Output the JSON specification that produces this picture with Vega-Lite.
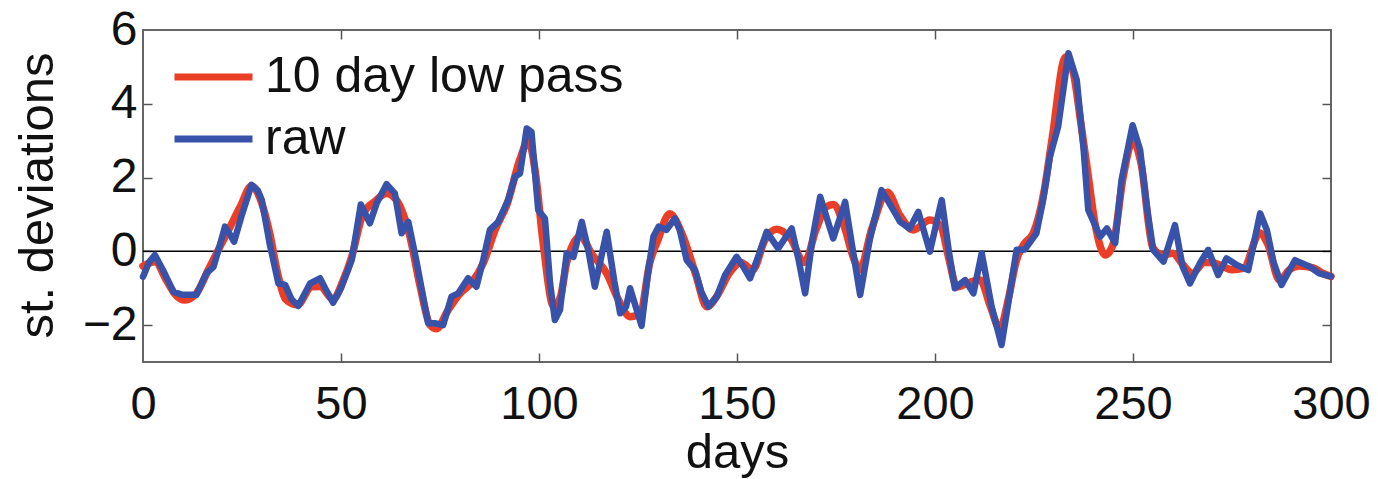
{
  "$schema": "https://vega.github.io/schema/vega-lite/v6.json",
  "width": 1188,
  "height": 332,
  "autosize": {"type": "none"},
  "padding": {"left": 143, "top": 30, "right": 47, "bottom": 117},
  "background": "white",
  "config": {
    "font": "Liberation Sans",
    "view": {"stroke": "#666666", "strokeWidth": 2},
    "axis": {"grid": false, "domain": false, "labelColor": "#111111", "titleColor": "#111111", "titleFontWeight": "normal"}
  },
  "datasets": {
    "raw": [
      {"day": 0, "value": -0.69}, {"day": 1.5, "value": -0.3}, {"day": 3, "value": -0.1}, {"day": 5, "value": -0.5},
      {"day": 7.7, "value": -1.1}, {"day": 10, "value": -1.18}, {"day": 13.5, "value": -1.18}, {"day": 16, "value": -0.6},
      {"day": 17.8, "value": -0.42}, {"day": 19.5, "value": 0.2}, {"day": 20.7, "value": 0.67}, {"day": 22, "value": 0.45},
      {"day": 23, "value": 0.26}, {"day": 25, "value": 1.0}, {"day": 27.4, "value": 1.8}, {"day": 29, "value": 1.65},
      {"day": 30, "value": 1.39}, {"day": 32, "value": 0.2}, {"day": 34.2, "value": -0.87}, {"day": 35.9, "value": -0.91},
      {"day": 37.5, "value": -1.3}, {"day": 39.2, "value": -1.48}, {"day": 42.2, "value": -0.87}, {"day": 44.7, "value": -0.73},
      {"day": 46, "value": -1.0}, {"day": 48, "value": -1.39}, {"day": 50, "value": -1.0}, {"day": 52.7, "value": -0.24},
      {"day": 55, "value": 1.27}, {"day": 57.3, "value": 0.76}, {"day": 59, "value": 1.3}, {"day": 61.5, "value": 1.82},
      {"day": 63.6, "value": 1.57}, {"day": 65.3, "value": 0.49}, {"day": 67, "value": 0.8}, {"day": 69, "value": -0.24},
      {"day": 72, "value": -1.95}, {"day": 73.7, "value": -1.95}, {"day": 75.8, "value": -2.0}, {"day": 77.9, "value": -1.23},
      {"day": 79.6, "value": -1.14}, {"day": 82.1, "value": -0.73}, {"day": 84.2, "value": -0.96}, {"day": 85.9, "value": -0.24},
      {"day": 87.6, "value": 0.58}, {"day": 89.7, "value": 0.8}, {"day": 92.2, "value": 1.39}, {"day": 93.9, "value": 2.02},
      {"day": 95.2, "value": 2.11}, {"day": 96.9, "value": 3.33}, {"day": 98.1, "value": 3.24}, {"day": 99.8, "value": 1.12},
      {"day": 101.5, "value": 0.89}, {"day": 102.8, "value": -0.87}, {"day": 104, "value": -1.86}, {"day": 105.3, "value": -1.59},
      {"day": 107, "value": -0.05}, {"day": 108.7, "value": -0.15}, {"day": 110.8, "value": 0.8}, {"day": 112.5, "value": 0.0},
      {"day": 114.1, "value": -0.96}, {"day": 117.1, "value": 0.53}, {"day": 119, "value": -0.8}, {"day": 120.5, "value": -1.68},
      {"day": 122, "value": -1.5}, {"day": 123, "value": -1.0}, {"day": 125.9, "value": -2.02}, {"day": 127.5, "value": -0.6},
      {"day": 128.9, "value": 0.4}, {"day": 130.2, "value": 0.67}, {"day": 132.2, "value": 0.58}, {"day": 134.3, "value": 0.89},
      {"day": 135.5, "value": 0.6}, {"day": 137.3, "value": -0.24}, {"day": 139.4, "value": -0.51}, {"day": 141, "value": -1.1},
      {"day": 142.8, "value": -1.5}, {"day": 144.9, "value": -1.23}, {"day": 147, "value": -0.64}, {"day": 149.9, "value": -0.15},
      {"day": 151.5, "value": -0.4}, {"day": 153.3, "value": -0.73}, {"day": 155.5, "value": -0.1}, {"day": 157.5, "value": 0.53},
      {"day": 160.4, "value": 0.08}, {"day": 163.8, "value": 0.62}, {"day": 165.5, "value": -0.2}, {"day": 167.2, "value": -1.14},
      {"day": 169, "value": 0.3}, {"day": 171, "value": 1.48}, {"day": 174.3, "value": 0.35}, {"day": 177.3, "value": 1.34},
      {"day": 179, "value": 0.2}, {"day": 181.1, "value": -1.18}, {"day": 183.5, "value": 0.3}, {"day": 186.5, "value": 1.66},
      {"day": 188.5, "value": 1.3}, {"day": 191.2, "value": 0.8}, {"day": 193.6, "value": 0.62}, {"day": 195.8, "value": 1.07},
      {"day": 198.7, "value": -0.01}, {"day": 201.7, "value": 1.39}, {"day": 203.5, "value": 0.0}, {"day": 205, "value": -1.0},
      {"day": 207.6, "value": -0.78}, {"day": 209.7, "value": -1.14}, {"day": 211.8, "value": -0.05}, {"day": 214.3, "value": -1.5},
      {"day": 216.8, "value": -2.54}, {"day": 218.1, "value": -1.68}, {"day": 220.6, "value": 0.04}, {"day": 222.7, "value": 0.05},
      {"day": 225.6, "value": 0.49}, {"day": 227.3, "value": 1.39}, {"day": 229, "value": 2.56}, {"day": 231.1, "value": 3.38},
      {"day": 233.7, "value": 5.37}, {"day": 235.8, "value": 4.64}, {"day": 237.5, "value": 2.8}, {"day": 238.7, "value": 1.12},
      {"day": 241.7, "value": 0.4}, {"day": 243.4, "value": 0.62}, {"day": 245.5, "value": 0.22}, {"day": 247.1, "value": 1.93},
      {"day": 249.9, "value": 3.42}, {"day": 251.8, "value": 2.75}, {"day": 253.5, "value": 1.2}, {"day": 255.1, "value": 0.04},
      {"day": 257.7, "value": -0.28}, {"day": 260.6, "value": 0.71}, {"day": 262.5, "value": -0.4}, {"day": 264.4, "value": -0.87},
      {"day": 267, "value": -0.3}, {"day": 269, "value": 0.04}, {"day": 271.5, "value": -0.64}, {"day": 273.6, "value": -0.19},
      {"day": 276.2, "value": -0.37}, {"day": 279.1, "value": -0.51}, {"day": 282.1, "value": 1.03}, {"day": 283.8, "value": 0.58},
      {"day": 285.5, "value": -0.3}, {"day": 287.5, "value": -0.91}, {"day": 290.9, "value": -0.24}, {"day": 294.7, "value": -0.42},
      {"day": 297, "value": -0.6}, {"day": 300, "value": -0.68}
    ],
    "lp": [
      {"day": 0, "value": -0.4}, {"day": 3, "value": -0.28}, {"day": 6, "value": -0.8}, {"day": 8, "value": -1.15},
      {"day": 10.6, "value": -1.32}, {"day": 13.5, "value": -1.14}, {"day": 16.5, "value": -0.5}, {"day": 19.4, "value": 0.12},
      {"day": 21.7, "value": 0.6}, {"day": 24.5, "value": 1.2}, {"day": 27.4, "value": 1.77}, {"day": 30, "value": 1.3},
      {"day": 32, "value": 0.49}, {"day": 34, "value": -0.6}, {"day": 36, "value": -1.3}, {"day": 39, "value": -1.45},
      {"day": 42.6, "value": -0.96}, {"day": 44.7, "value": -0.95}, {"day": 48, "value": -1.3}, {"day": 50.5, "value": -0.8},
      {"day": 52.7, "value": -0.15}, {"day": 55.5, "value": 1.0}, {"day": 58.5, "value": 1.35}, {"day": 61.5, "value": 1.57},
      {"day": 64, "value": 1.39}, {"day": 67.4, "value": 0.4}, {"day": 70, "value": -0.96}, {"day": 72.5, "value": -2.0},
      {"day": 74.1, "value": -2.1}, {"day": 77, "value": -1.6}, {"day": 80, "value": -1.15}, {"day": 83, "value": -0.85},
      {"day": 86, "value": -0.3}, {"day": 89, "value": 0.6}, {"day": 92, "value": 1.3}, {"day": 95.2, "value": 2.5},
      {"day": 97.3, "value": 3.0}, {"day": 99, "value": 2.2}, {"day": 101, "value": 0.27}, {"day": 103.7, "value": -1.5},
      {"day": 105.5, "value": -1.2}, {"day": 107, "value": -0.3}, {"day": 110.4, "value": 0.4}, {"day": 113.5, "value": -0.1},
      {"day": 117.1, "value": -0.6}, {"day": 120, "value": -1.3}, {"day": 123, "value": -1.77}, {"day": 125.5, "value": -1.7},
      {"day": 128, "value": -0.3}, {"day": 130, "value": 0.3}, {"day": 133, "value": 1.02}, {"day": 136.4, "value": 0.4},
      {"day": 139.5, "value": -0.6}, {"day": 142.4, "value": -1.5}, {"day": 145, "value": -1.2}, {"day": 148, "value": -0.6},
      {"day": 151, "value": -0.3}, {"day": 154, "value": -0.5}, {"day": 157, "value": 0.3}, {"day": 160, "value": 0.6},
      {"day": 163.5, "value": 0.35}, {"day": 167, "value": -0.3}, {"day": 170, "value": 0.6}, {"day": 172.5, "value": 1.2},
      {"day": 174.3, "value": 1.27}, {"day": 177, "value": 0.7}, {"day": 179.5, "value": -0.2}, {"day": 181, "value": -0.5},
      {"day": 184, "value": 0.6}, {"day": 188, "value": 1.6}, {"day": 191, "value": 1.0}, {"day": 194.5, "value": 0.58},
      {"day": 198.7, "value": 0.85}, {"day": 201.5, "value": 0.67}, {"day": 203.5, "value": -0.2}, {"day": 205.5, "value": -0.96},
      {"day": 208.5, "value": -0.85}, {"day": 211.4, "value": -0.78}, {"day": 214, "value": -1.5}, {"day": 216.4, "value": -2.1},
      {"day": 218.5, "value": -1.3}, {"day": 220.6, "value": -0.23}, {"day": 222.5, "value": 0.2}, {"day": 224.8, "value": 0.49},
      {"day": 227.5, "value": 1.6}, {"day": 229.5, "value": 3.0}, {"day": 233, "value": 5.27}, {"day": 235, "value": 4.8},
      {"day": 236.8, "value": 3.5}, {"day": 238.5, "value": 2.2}, {"day": 240.5, "value": 0.7}, {"day": 243, "value": -0.1},
      {"day": 245, "value": 0.2}, {"day": 247.5, "value": 2.0}, {"day": 250, "value": 3.0}, {"day": 252, "value": 2.4},
      {"day": 255, "value": 0.1}, {"day": 257.5, "value": -0.1}, {"day": 260, "value": -0.05}, {"day": 262.5, "value": -0.35},
      {"day": 265, "value": -0.6}, {"day": 268, "value": -0.3}, {"day": 270, "value": -0.3}, {"day": 272.5, "value": -0.4},
      {"day": 275, "value": -0.5}, {"day": 278, "value": -0.45}, {"day": 282, "value": 0.5}, {"day": 284, "value": 0.2},
      {"day": 287, "value": -0.78}, {"day": 289.5, "value": -0.5}, {"day": 292, "value": -0.4}, {"day": 295.5, "value": -0.45},
      {"day": 298, "value": -0.6}, {"day": 300, "value": -0.68}
    ],
    "zero": [{"day": 0, "day2": 300, "value": 0}]
  },
  "layer": [
    {
      "data": {"name": "zero"},
      "mark": {"type": "rule", "color": "#000000", "strokeWidth": 1.5},
      "encoding": {
        "x": {"field": "day", "type": "quantitative", "scale": {"domain": [0, 300], "nice": false, "zero": false},
              "axis": {"orient": "top", "labels": false, "title": null, "ticks": true, "tickSize": -9, "tickWidth": 1.5, "tickColor": "#555555", "values": [50, 100, 150, 200, 250]}},
        "x2": {"field": "day2"},
        "y": {"field": "value", "type": "quantitative", "scale": {"domain": [-3, 6], "nice": false, "zero": false},
              "axis": {"orient": "right", "labels": false, "title": null, "ticks": true, "tickSize": -9, "tickWidth": 1.5, "tickColor": "#555555", "values": [-2, 0, 2, 4]}}
      }
    },
    {
      "data": {"name": "lp"},
      "transform": [{"calculate": "'10 day low pass'", "as": "series"}],
      "mark": {"type": "line", "strokeWidth": 7.5, "interpolate": "monotone", "strokeCap": "round", "strokeJoin": "round"},
      "encoding": {
        "x": {"field": "day", "type": "quantitative",
              "axis": {"orient": "bottom", "ticks": false, "values": [0, 50, 100, 150, 200, 250, 300], "labelFontSize": 47, "labelBaseline": "alphabetic", "labelPadding": 56, "labelFlush": false,
                       "title": "days", "titleFontSize": 49, "titleBaseline": "alphabetic", "titleY": 105, "titleX": 594}},
        "y": {"field": "value", "type": "quantitative",
              "axis": {"orient": "left", "ticks": false, "values": [-2, 0, 2, 4, 6], "labelFontSize": 48, "labelPadding": 6, "labelFlush": false,
                       "title": "st. deviations", "titleFontSize": 49, "titleAngle": 270, "titleBaseline": "middle", "titleAlign": "center", "titleX": -106, "titleY": 165}},
        "color": {"field": "series", "type": "nominal",
                  "scale": {"domain": ["10 day low pass", "raw"], "range": ["#ea3f26", "#3852a9"]},
                  "legend": {"orient": "none", "legendX": 28, "legendY": 22, "title": null, "padding": 0,
                             "symbolType": "stroke", "symbolSize": 6084, "symbolStrokeWidth": 7, "labelFontSize": 50, "labelColor": "#111111",
                             "labelOffset": 9, "labelLimit": 0, "clipHeight": 50, "rowPadding": 12}}
      }
    },
    {
      "data": {"name": "raw"},
      "transform": [{"calculate": "'raw'", "as": "series"}],
      "mark": {"type": "line", "strokeWidth": 6.5, "strokeCap": "round", "strokeJoin": "round"},
      "encoding": {
        "x": {"field": "day", "type": "quantitative",
              "axis": {"orient": "bottom", "labels": false, "title": null, "ticks": true, "tickSize": -9, "tickWidth": 1.5, "tickColor": "#555555", "values": [50, 100, 150, 200, 250]}},
        "y": {"field": "value", "type": "quantitative",
              "axis": {"orient": "left", "labels": false, "title": null, "ticks": true, "tickSize": -9, "tickWidth": 1.5, "tickColor": "#555555", "values": [-2, 0, 2, 4]}},
        "color": {"field": "series", "type": "nominal"}
      }
    }
  ],
  "resolve": {"axis": {"x": "independent", "y": "independent"}}
}
